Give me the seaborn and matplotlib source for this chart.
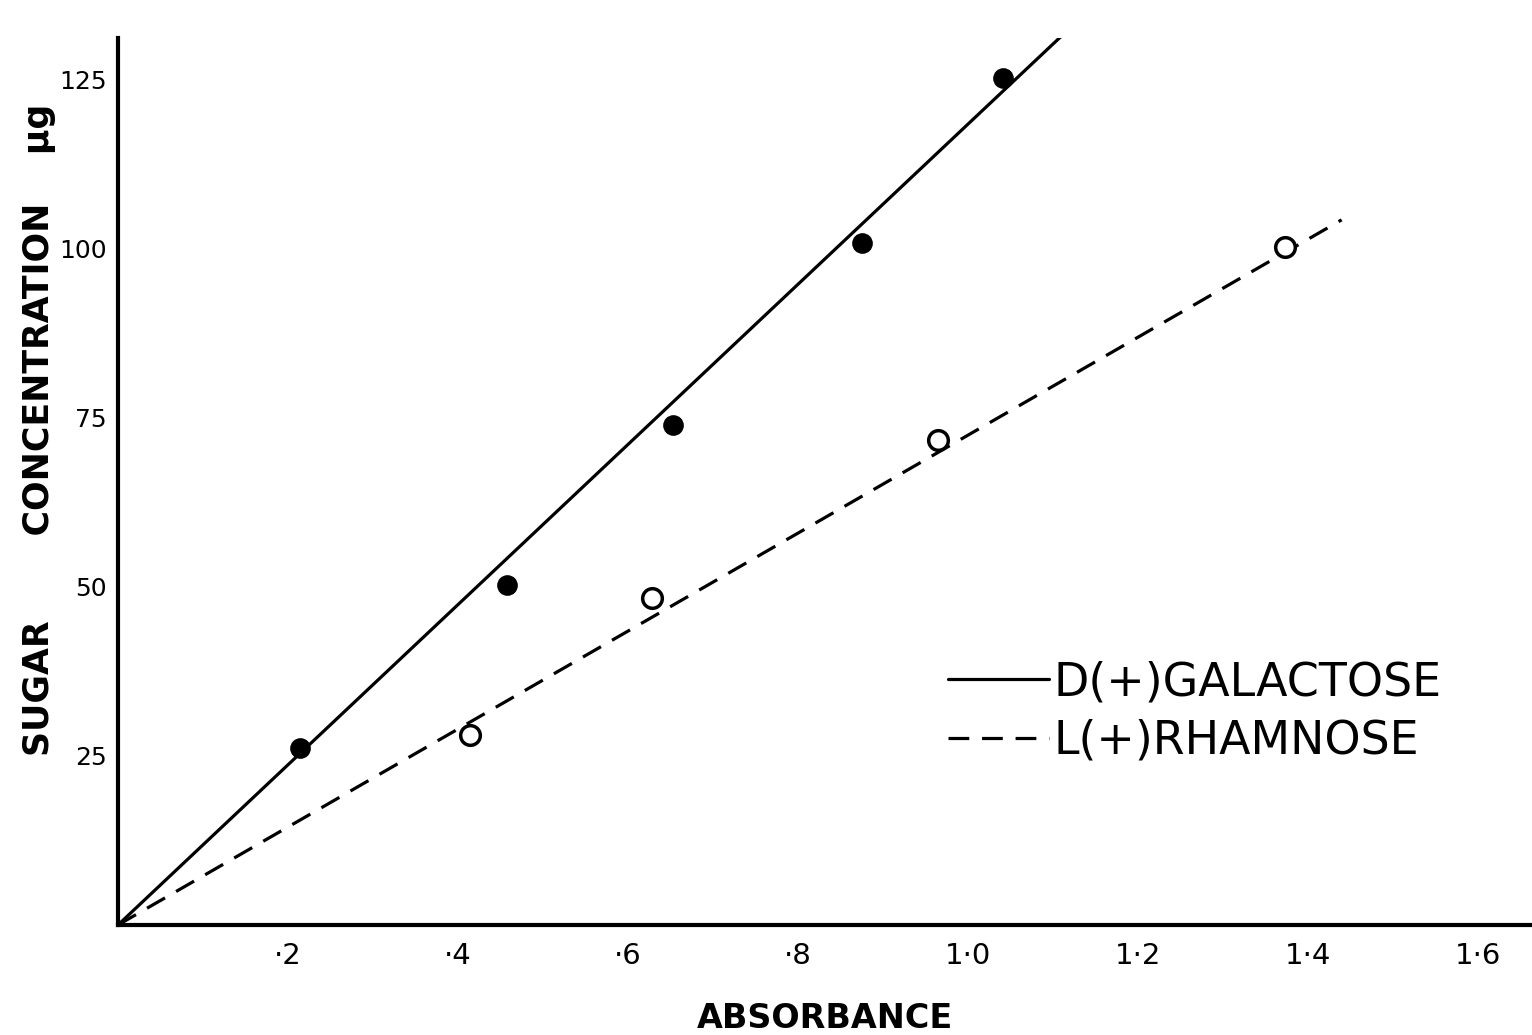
import matplotlib
matplotlib.use('Agg')
import matplotlib.pyplot as plt
import pandas as pd
import seaborn as sns

# measured points
gal_x = [0.214, 0.458, 0.653, 0.875, 1.041]
gal_y = [26.2, 50.3, 74.0, 100.9, 125.3]
rham_x = [0.414, 0.629, 0.965, 1.373]
rham_y = [28.1, 48.4, 71.7, 100.3]

# hand-drawn calibration lines (end points)
gal_line_x = [0.0, 1.118]
gal_line_y = [0.0, 132.4]
rham_line_x = [0.0, 1.44]
rham_line_y = [0.0, 104.3]

x_ticks = [0.2, 0.4, 0.6, 0.8, 1.0, 1.2, 1.4, 1.6]
x_labels = ['·2', '·4', '·6', '·8', '1·0', '1·2', '1·4', '1·6']
y_ticks = [25, 50, 75, 100, 125]
y_labels = ['25', '50', '75', '100', '125']


def main():
    sns.set_style('white')
    plt.rcParams['font.family'] = ['DejaVu Sans']
    plt.rcParams['text.color'] = 'black'
    plt.rcParams['axes.labelcolor'] = 'black'

    fig = plt.figure(figsize=(15.32, 10.35), dpi=100)
    ax = fig.add_axes([0.077, 0.1063, 0.923, 0.857])

    gal_line = pd.DataFrame({'x': gal_line_x, 'y': gal_line_y})
    rham_line = pd.DataFrame({'x': rham_line_x, 'y': rham_line_y})
    sns.lineplot(x='x', y='y', data=gal_line, ax=ax, color='black',
                 lw=2.3, label='D(+)GALACTOSE')
    sns.lineplot(x='x', y='y', data=rham_line, ax=ax, color='black',
                 lw=2.3, label='L(+)RHAMNOSE')
    ax.lines[1].set_dashes((6.5, 4))

    sns.scatterplot(x=gal_x, y=gal_y, ax=ax, color='black', s=190,
                    edgecolor='black', zorder=5)
    sns.scatterplot(x=rham_x, y=rham_y, ax=ax, facecolor='white', s=200,
                    edgecolor='black', linewidth=2.5, zorder=5)

    ax.set_xlim(0, 1.664)
    ax.set_ylim(0, 131.2)
    sns.despine(ax=ax)
    for side in ['left', 'bottom']:
        ax.spines[side].set_linewidth(3)
        ax.spines[side].set_color('black')

    ax.set_xticks(x_ticks)
    ax.set_xticklabels(x_labels, fontsize=21)
    ax.set_yticks(y_ticks)
    ax.set_yticklabels(y_labels, fontsize=18)
    ax.tick_params(axis='x', direction='in', length=13, width=2.5,
                   pad=12, colors='black')
    ax.tick_params(axis='y', direction='in', length=7, width=2.5,
                   pad=8, colors='black')

    ax.set_xlabel('ABSORBANCE', fontsize=24, fontweight='bold')
    ax.xaxis.set_label_coords(0.5, -0.087)
    ax.set_ylabel('SUGAR       CONCENTRATION    µg', fontsize=25,
                  fontweight='bold')
    ax.yaxis.set_label_coords(-0.056, 0.558)
    ax.yaxis.label.set_verticalalignment('center')

    leg = ax.legend(loc='upper left', bbox_to_anchor=(0.558, 0.345),
                    frameon=False, fontsize=33, handlelength=2.2,
                    handletextpad=0.1, labelspacing=0.3)
    for t in leg.get_texts():
        t.set_color('black')

    plt.savefig('out.png', dpi=100)
    return


if __name__ == '__main__':
    main()
